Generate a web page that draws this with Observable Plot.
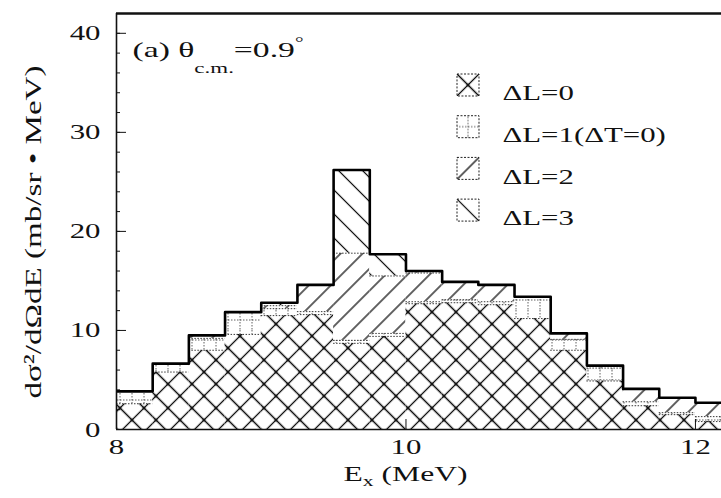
<!DOCTYPE html>
<html>
<head>
<meta charset="utf-8">
<script src="https://cdn.jsdelivr.net/npm/d3@7"></script>
<script src="https://cdn.jsdelivr.net/npm/@observablehq/plot@0.6"></script>
<style>
  body { margin: 0; background: #fff; }
  #chart svg { display: block; }
</style>
</head>
<body>
<div id="chart"></div>
<script>
// Excitation-energy bins (MeV), 0.25 MeV wide
const binStarts = [8.00, 8.25, 8.50, 8.75, 9.00, 9.25, 9.50, 9.75, 10.00, 10.25, 10.50, 10.75, 11.00, 11.25, 11.50, 11.75, 12.00];
const binWidth = 0.25;

// Multipole components, stacked from the bottom (mb/sr·MeV)
const layerNames = ["ΔL=0", "ΔL=1(ΔT=0)", "ΔL=2", "ΔL=3"];
const dL0 = [2.6, 5.8, 8.0, 9.6, 11.5, 11.6, 8.7, 9.4, 12.7, 12.8, 12.6, 11.2, 8.0, 4.9, 2.4, 1.5, 0.8];
const dL1 = [1.25, 0.85, 1.2, 2.25, 0.7, 0.3, 0.3, 0.3, 0.2, 0.3, 0.3, 2.2, 1.1, 1.3, 0.4, 0.2, 0.5];
const dL2 = [0, 0, 0.3, 0, 0.3, 2.7, 8.8, 5.8, 2.9, 1.8, 1.7, 0, 0.6, 0.25, 1.3, 1.5, 1.4];
const dL3 = [0, 0, 0, 0, 0.3, 0, 8.4, 2.2, 0.2, 0, 0, 0, 0, 0, 0, 0, 0];

// Axis ticks and labels
const xTicks = [8, 10, 12];
const yTicks = [0, 10, 20, 30, 40];
const yMinorTicks = d3.range(0, 42, 2);
const xDomain = [8, 12.18];
const yDomain = [0, 42];
const titleText = "(a) θc.m.=0.9°";
const yLabelText = "dσ²/dΩdE (mb/sr • MeV)";
const xLabelText = "Ex (MeV)";

// Hatch pattern ids, one per component
const patternIds = ["hatch-cross", "hatch-grid", "hatch-fwd", "hatch-back"];
const patternUrls = patternIds.map(id => `url(#${id})`);

const series = [dL0, dL1, dL2, dL3];
const layers = binStarts.flatMap((x0, i) =>
  series.map((s, k) => ({x0, x1: x0 + binWidth, layer: layerNames[k], value: s[i]}))
);
const envelope = binStarts.map((x0, i) => ({x: x0, total: d3.sum(series, s => s[i])}));
envelope.push({x: binStarts[binStarts.length - 1] + binWidth, total: envelope[envelope.length - 1].total});

// SVG <defs> holding the hatch fills
function patternDefs() {
  const g = document.createElementNS("http://www.w3.org/2000/svg", "g");
  g.innerHTML = `<defs>
    <pattern id="hatch-cross" patternUnits="userSpaceOnUse" x="8.485" y="8.485" width="16.97" height="16.97" patternTransform="rotate(45)">
      <rect width="16.97" height="16.97" fill="#fff"/>
      <path d="M0,8.485H16.97M8.485,0V16.97" stroke="#111" stroke-width="1.3"/>
      <circle cx="8.485" cy="8.485" r="1.6" fill="#111"/>
    </pattern>
    <pattern id="hatch-grid" patternUnits="userSpaceOnUse" x="6" y="10" width="12" height="20">
      <rect width="12" height="20" fill="#fff"/>
      <path d="M0,10H12M6,0V20" stroke="#333" stroke-width="0.8" stroke-dasharray="1.5 1.5"/>
    </pattern>
    <pattern id="hatch-fwd" patternUnits="userSpaceOnUse" x="7.78" width="15.56" height="15.56" patternTransform="rotate(45)">
      <rect width="15.56" height="15.56" fill="#fff"/>
      <path d="M7.78,0V15.56" stroke="#111" stroke-width="1.3"/>
    </pattern>
    <pattern id="hatch-back" patternUnits="userSpaceOnUse" y="8.485" width="16.97" height="16.97" patternTransform="rotate(45)">
      <rect width="16.97" height="16.97" fill="#fff"/>
      <path d="M0,8.485H16.97" stroke="#111" stroke-width="1.2"/>
    </pattern>
  </defs>`;
  return g;
}

const font = "'Liberation Serif', 'Times New Roman', serif";

const legendMarks = layerNames.flatMap((name, i) => [
  Plot.dot([name], {
    frameAnchor: "top-left", dx: 351.5, dy: 71.5 + i * 41.7,
    symbol: "square", r: 12.4, fill: d => d,
    stroke: "#222", strokeWidth: 1, strokeDasharray: "2 1.5"
  }),
  Plot.text([name], {
    frameAnchor: "top-left", dx: 386, dy: 71 + i * 41.7,
    text: d => d, textAnchor: "start", fontSize: 22, fill: "#111"
  })
]);

const plot = Plot.plot({
  width: 721,
  height: 498,
  marginLeft: 116,
  marginRight: 0,
  marginTop: 13,
  marginBottom: 69,
  style: {fontFamily: font, fontSize: "22px", color: "#111", background: "#fff"},
  x: {domain: xDomain},
  y: {domain: yDomain},
  color: {type: "ordinal", domain: layerNames, range: patternUrls},
  marks: [
    patternDefs,
    Plot.rectY(layers, {x1: "x0", x2: "x1", y: "value", z: "layer", fill: "layer", inset: 0, clip: true}),
    Plot.ruleY(layers, Plot.stackY2({
      x1: "x0", x2: "x1", y: "value", z: "layer",
      stroke: "#222", strokeWidth: 0.9, strokeDasharray: "1.5 1.5", clip: true
    })),
    Plot.line(envelope, {x: "x", y: "total", curve: "step-after", stroke: "#000", strokeWidth: 2.6, clip: true}),
    Plot.ruleX([xDomain[0]], {stroke: "#111", strokeWidth: 1.6}),
    Plot.ruleY([yDomain[0]], {stroke: "#111", strokeWidth: 1.6}),
    Plot.ruleY([yDomain[1]], {stroke: "#111", strokeWidth: 2.4}),
    Plot.axisY({ticks: yMinorTicks, tickSize: -4, text: null, label: null, stroke: "#111"}),
    Plot.axisY({ticks: yTicks, tickSize: -10, text: null, label: null, stroke: "#111"}),
    Plot.axisY({ticks: yTicks, tickSize: 0, tickPadding: 16, tickFormat: d => String(d), label: null, fontSize: 22, fill: "#111"}),
    Plot.axisX({ticks: xTicks, tickSize: -10, text: null, label: null, stroke: "#111"}),
    Plot.axisX({ticks: xTicks, tickSize: 0, tickPadding: 9, tickFormat: d => String(d), label: null, fontSize: 22, fill: "#111"}),
    ...legendMarks,
    Plot.text([titleText], {
      frameAnchor: "top-left", dx: 16, dy: 28, textAnchor: "start",
      fontSize: 22, fill: "#111"
    }),
    // rotated label, anchored at its lower end
    Plot.text([yLabelText], {
      frameAnchor: "left", dx: -83, dy: 177, rotate: -90, textAnchor: "start",
      fontSize: 24, fill: "#111"
    }),
    Plot.text([xLabelText], {
      frameAnchor: "bottom", dx: -13.5, dy: 51,
      fontSize: 22, fill: "#111"
    })
  ]
});

document.getElementById("chart").append(plot);

const svg = d3.select(plot);
const findText = s => svg.selectAll("text").filter(function() { return this.textContent === s; });

// Subscripts and superscripts in the panel title and the x label
const title = findText(titleText);
title.text(null);
title.append("tspan").text("(a) θ");
title.append("tspan").attr("font-size", 15).attr("dy", 16).text("c.m.");
title.append("tspan").attr("dy", -16).text("=0.9");
title.append("tspan").attr("font-size", 14).attr("dy", -10).text("°");

const xlab = findText(xLabelText);
xlab.text(null);
xlab.append("tspan").text("E");
xlab.append("tspan").attr("font-size", 15).attr("dy", 5).text("x");
xlab.append("tspan").attr("dy", -5).text(" (MeV)");

const ylab = findText(yLabelText);

// Wide lettering: stretch glyphs horizontally
const fixedLengths = new Map([
  [title.node(), 171],
  [xlab.node(), 124],
  [ylab.node(), 333]
]);
svg.selectAll("text").each(function() {
  const len = fixedLengths.get(this) ?? this.getComputedTextLength() * 1.4;
  this.setAttribute("textLength", len);
  this.setAttribute("lengthAdjust", "spacingAndGlyphs");
});
</script>
</body>
</html>
